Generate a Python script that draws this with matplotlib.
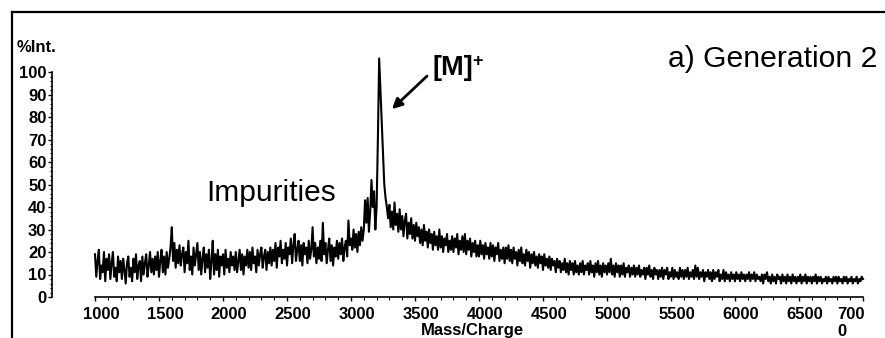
"""
MALDI-TOF spectrum, generation 2 dendrimer: intensity vs mass/charge.
Saves out.png (885x338).
"""

import numpy as np
import matplotlib.pyplot as plt
from matplotlib.lines import Line2D
from matplotlib.transforms import ScaledTranslation

plt.rcParams["font.family"] = ["Liberation Sans", "DejaVu Sans"]

# intensity (%), one value every 10 m/z from 1000 to 7000
MZ_START, MZ_STEP = 1000, 10
intensity = [
    19, 9, 16, 21, 8, 14, 11, 20, 7, 17,         # 1000
    12, 19, 8, 15, 20, 9, 13, 7, 18, 11,         # 1100
    16, 8, 17, 12, 6, 15, 18, 9, 13, 7,          # 1200
    17, 11, 19, 8, 14, 16, 7, 18, 10, 15,        # 1300
    19, 9, 14, 20, 11, 17, 10, 18, 12, 20,       # 1400
    9, 16, 21, 11, 18, 10, 20, 13, 17, 22,       # 1500
    31, 16, 24, 13, 21, 15, 23, 14, 19, 22,      # 1600
    11, 20, 15, 25, 12, 18, 10, 22, 14, 19,      # 1700
    24, 12, 20, 10, 17, 22, 11, 19, 13, 21,      # 1800
    8, 16, 25, 10, 19, 12, 21, 9, 18, 14,        # 1900
    19, 10, 21, 13, 17, 11, 20, 14, 18, 12,      # 2000
    20, 11, 16, 21, 12, 19, 10, 18, 14, 21,      # 2100
    13, 20, 12, 22, 15, 18, 11, 21, 14, 19,      # 2200
    22, 13, 18, 21, 12, 20, 15, 22, 14, 21,      # 2300
    16, 24, 13, 22, 18, 25, 15, 21, 17, 24,      # 2400
    14, 22, 19, 26, 15, 23, 28, 16, 21, 25,      # 2500
    16, 23, 14, 24, 19, 22, 15, 25, 17, 21,      # 2600
    31, 18, 24, 15, 22, 17, 25, 16, 33, 19,      # 2700
    24, 15, 21, 26, 16, 23, 14, 22, 18, 25,      # 2800
    17, 24, 19, 26, 16, 22, 25, 18, 34, 23,      # 2900
    26, 21, 30, 22, 28, 20, 29, 23, 31, 25,      # 3000
    30, 43, 33, 44, 29, 38, 52, 40, 47, 30,      # 3100
    40, 70, 106, 92, 78, 63, 50, 44, 40, 35,     # 3200
    41, 31, 38, 30, 42, 32, 37, 29, 39, 30,      # 3300
    36, 27, 34, 37, 26, 33, 28, 35, 26, 32,      # 3400
    25, 33, 27, 31, 24, 30, 23, 32, 25, 29,      # 3500
    22, 30, 24, 28, 21, 29, 23, 27, 21, 30,      # 3600
    22, 27, 20, 26, 23, 28, 20, 25, 21, 27,      # 3700
    20, 26, 22, 28, 19, 25, 21, 27, 20, 28,      # 3800
    19, 25, 21, 26, 18, 24, 20, 25, 18, 23,      # 3900
    18, 25, 19, 23, 17, 24, 19, 22, 17, 24,      # 4000
    18, 23, 16, 22, 19, 24, 16, 21, 17, 22,      # 4100
    15, 22, 17, 23, 16, 21, 15, 22, 17, 20,      # 4200
    14, 21, 16, 22, 15, 19, 14, 21, 16, 20,      # 4300
    13, 19, 15, 20, 14, 18, 13, 19, 15, 18,      # 4400
    12, 19, 14, 17, 13, 18, 12, 17, 14, 16,      # 4500
    11, 17, 13, 16, 11, 15, 12, 17, 11, 15,      # 4600
    10, 16, 12, 15, 10, 16, 11, 14, 10, 15,      # 4700
    11, 16, 10, 14, 12, 15, 10, 16, 11, 14,      # 4800
    9, 15, 11, 16, 10, 14, 9, 15, 11, 14,        # 4900
    10, 15, 11, 17, 10, 14, 9, 15, 11, 14,       # 5000
    9, 14, 10, 15, 9, 13, 11, 14, 9, 13,         # 5100
    10, 14, 9, 13, 10, 14, 9, 12, 10, 13,        # 5200
    8, 13, 10, 14, 9, 12, 8, 13, 10, 12,         # 5300
    8, 12, 9, 13, 8, 12, 10, 13, 8, 11,          # 5400
    9, 13, 8, 12, 9, 11, 8, 13, 9, 12,           # 5500
    8, 12, 9, 13, 8, 11, 9, 12, 8, 14,           # 5600
    9, 13, 8, 11, 9, 12, 7, 11, 9, 12,           # 5700
    8, 11, 7, 12, 8, 11, 9, 12, 7, 10,           # 5800
    8, 12, 7, 11, 8, 10, 7, 11, 8, 10,           # 5900
    7, 11, 8, 10, 7, 11, 8, 10, 7, 10,           # 6000
    8, 11, 7, 10, 8, 11, 7, 10, 8, 9,            # 6100
    7, 10, 6, 10, 8, 11, 7, 9, 6, 10,            # 6200
    7, 9, 6, 10, 8, 9, 6, 10, 7, 9,              # 6300
    6, 10, 7, 9, 6, 10, 7, 9, 6, 9,              # 6400
    7, 10, 6, 9, 7, 10, 6, 9, 7, 9,              # 6500
    6, 9, 7, 10, 6, 9, 7, 9, 6, 8,               # 6600
    7, 9, 6, 9, 7, 8, 6, 9, 7, 9,                # 6700
    6, 9, 7, 8, 6, 9, 7, 9, 6, 8,                # 6800
    7, 9, 6, 8, 7, 9, 6, 8, 7, 9,                # 6900
    8,                                           # 7000
]
mass = MZ_START + MZ_STEP * np.arange(len(intensity))

x_ticks = [1000, 1500, 2000, 2500, 3000, 3500, 4000, 4500, 5000, 5500, 6000, 6500, 7000]
x_ticklabels = ["1000", "1500", "2000", "2500", "3000", "3500", "4000",
                "4500", "5000", "5500", "6000", "6500", "700\n0"]
y_ticks = [0, 10, 20, 30, 40, 50, 60, 70, 80, 90, 100]

W, H = 885, 338


def fig_xy(px, py):
    """pixel position (from top left) -> figure fraction"""
    return px / W, 1 - py / H


fig = plt.figure(figsize=(W / 100, H / 100), dpi=100)
ax = fig.add_axes([52 / W, 1 - 297 / H, (866 - 52) / W, (297 - 50) / H])

# thick trace so the dense noise reads as a near-solid band, as in the original
ax.plot(mass, intensity, color="black", lw=1.5)

ax.set_xlim(1000 - 43 / 0.128, 7000 + 3 / 0.128)
ax.set_ylim(0, 247 / 2.25)

for side in ("top", "right"):
    ax.spines[side].set_visible(False)
ax.spines["left"].set_bounds(0, 100)
ax.spines["bottom"].set_bounds(1000, 7000)
for side in ("left", "bottom"):
    ax.spines[side].set_linewidth(1.2)

ax.set_xticks(x_ticks)
ax.set_xticklabels(x_ticklabels, fontweight="bold", fontsize=12, multialignment="left")
ax.set_xticks(np.arange(1000, 7001, 100), minor=True)
ax.set_yticks(y_ticks)
ax.set_yticklabels([str(v) for v in y_ticks], fontweight="bold", fontsize=12)
ax.set_yticks(np.arange(0, 101, 2), minor=True)
ax.tick_params(which="major", length=3, width=1, pad=1)
ax.tick_params(which="minor", length=1.8, width=0.8)
ax.tick_params(axis="x", which="major", pad=4)

# tick labels in the original sit a little right of their ticks
for i, lab in enumerate(ax.get_xticklabels()):
    dx = -12 if i == len(x_ticks) - 1 else 6
    lab.set_transform(lab.get_transform() + ScaledTranslation(dx / 100, 0, fig.dpi_scale_trans))

fig.text(*fig_xy(472, 323), "Mass/Charge", ha="center", va="top", fontsize=12, fontweight="bold")
fig.text(*fig_xy(17, 48), "%Int.", ha="left", va="center", fontsize=12, fontweight="bold")

fig.text(*fig_xy(877, 67), "a) Generation 2", ha="right", va="baseline", fontsize=21.7)
fig.text(*fig_xy(206, 201), "Impurities", ha="left", va="baseline", fontsize=21.5)
fig.text(*fig_xy(432, 75), "[M]", ha="left", va="baseline", fontsize=19.5, fontweight="bold")
fig.text(*fig_xy(472, 66), "+", ha="left", va="baseline", fontsize=13, fontweight="bold")

ax.annotate("", xy=(3320, 83.5), xytext=(3594, 98.2),
            arrowprops=dict(arrowstyle="-|>,head_length=0.6,head_width=0.3",
                            color="black", lw=2, shrinkA=0, shrinkB=0))

# frame lines along the top and left of the picture
fig.add_artist(Line2D([12 / W, 884 / W], [1 - 12 / H] * 2, color="black", lw=1.6))
fig.add_artist(Line2D([12 / W] * 2, [1 - 12 / H, 0], color="black", lw=1.6))

fig.savefig("out.png", dpi=100)
